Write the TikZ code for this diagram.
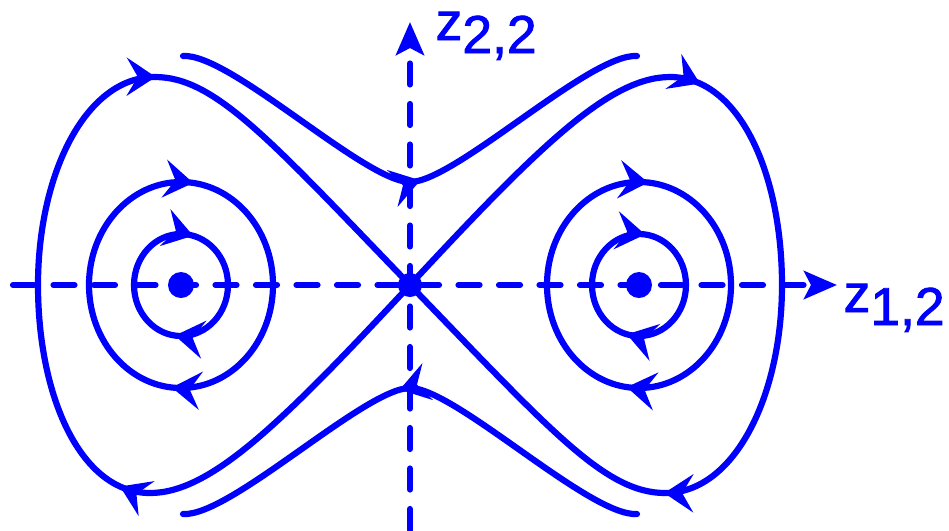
\documentclass[tikz,border=0pt]{standalone}
\usepackage{fontspec}
\setmainfont{Liberation Sans}
\newfontfamily\axfont{Liberation Sans}[FakeBold=1.6]
\usetikzlibrary{arrows.meta,decorations.markings}

\tikzset{
  flowhead/.tip={Stealth[length=0.29cm,width=0.38cm,inset=0.11cm]},
  flow/.style={blue,line width=0.062cm,line cap=round,line join=round},
  flowtip/.style={postaction={decorate,decoration={markings,
      mark=at position #1 with {\arrow{flowhead}}}}},
  axis/.style={blue,line width=0.062cm,line cap=round,
    dash pattern=on 0.21cm off 0.195cm,
    -{Stealth[length=0.33cm,width=0.28cm,inset=0.07cm]}},
  fixpt/.style={circle,fill=blue,inner sep=0pt,minimum size=#1},
  axlabel/.style={blue,inner sep=0pt,anchor=base west,
    font=\axfont\fontsize{15.2pt}{17pt}\selectfont},
}

\begin{document}
\begin{tikzpicture}
  \useasboundingbox (-4.10,-2.45) rectangle (5.39,2.85);
  % axes
  \draw[axis] (-3.97,0) -- (4.27,0);
  \draw[axis] (0,-2.45) -- (0,2.63);
  % left half, then the same turned round the saddle
  \foreach \r in {0,180}{
    \begin{scope}[rotate=\r]
      \draw[flow,flowtip=0.27,flowtip=0.79] (-1.82,0)
        arc[start angle=0,end angle=-360,x radius=0.47,y radius=0.51];
      \draw[flow,flowtip=0.265,flowtip=0.77] (-1.37,0)
        arc[start angle=0,end angle=-360,x radius=0.92,y radius=1.03];
      % separatrix loop
      \draw[flow,flowtip=0.31,flowtip=0.72] (0,0)
        .. controls (-1.3,-1.4) and (-2.0,-2.08) .. (-2.60,-2.08)
        .. controls (-3.30,-2.08) and (-3.72,-1.1) .. (-3.72,0)
        .. controls (-3.72,1.1) and (-3.25,2.08) .. (-2.55,2.08)
        .. controls (-1.95,2.08) and (-1.4,1.45) .. (0,0);
      % outer flow line
      \draw[flow,flowtip=0.52] (-2.27,2.29)
        .. controls (-1.80,2.32) and (-0.45,1.03) .. (0,1.03)
        .. controls (0.45,1.03) and (1.80,2.32) .. (2.27,2.29);
    \end{scope}
  }
  \node[fixpt=0.26cm] (lfix) at (-2.29,0) {};
  \node[fixpt=0.26cm] (rfix) at (2.29,0) {};
  \node[fixpt=0.24cm] (sad) at (0,0) {};
  \node[axlabel] (zv) at (0.25,2.45) {z\raisebox{-0.13cm}{2,2}};
  \node[axlabel] (zh) at (4.33,-0.27) {z\raisebox{-0.13cm}{1,2}};
\end{tikzpicture}
\end{document}
